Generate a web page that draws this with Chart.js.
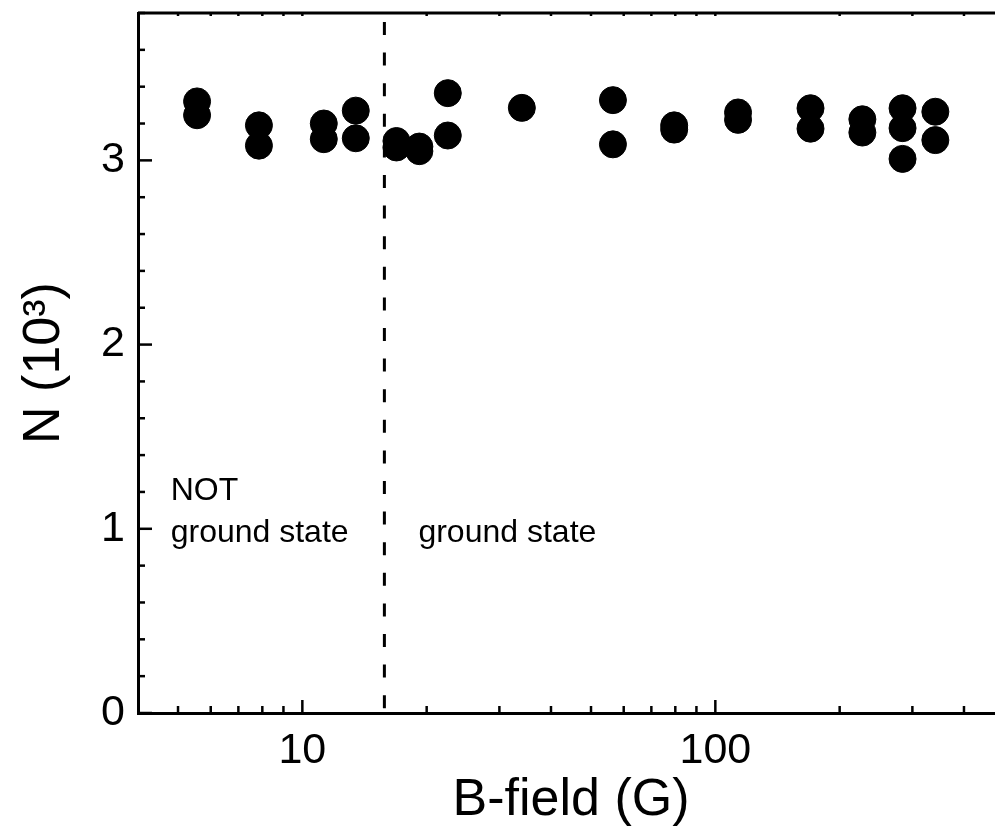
<!DOCTYPE html>
<html>
<head>
<meta charset="utf-8">
<script src="https://cdn.jsdelivr.net/npm/chart.js@4.4.1/dist/chart.umd.min.js"></script>
<style>
html, body { margin: 0; padding: 0; overflow: hidden; background: #fff; }
canvas { display: block; }
</style>
</head>
<body>
<canvas id="nChart" width="1004" height="829"></canvas>
<script>
// B-field (G) and atom number N (10^3)
const bField = [5.56, 5.56, 7.85, 7.85, 11.27, 11.27, 13.47, 13.47, 16.9, 16.9, 19.2, 19.2,
    22.5, 22.5, 34.0, 56.5, 56.5, 79.5, 79.5, 113.5, 113.5, 170, 170, 227, 227, 284, 284, 284, 341, 341];
const atomNumber = [3.32, 3.245, 3.19, 3.08, 3.20, 3.115, 3.27, 3.12, 3.105, 3.07, 3.075, 3.05,
    3.365, 3.135, 3.285, 3.327, 3.087, 3.19, 3.167, 3.26, 3.22, 3.283, 3.172, 3.223, 3.151, 3.283, 3.175, 3.008, 3.264, 3.11];

// field where the ground state starts (dashed line)
const boundaryField = 15.8;
const boundaryRange = [3.8, 0];

// axis ticks
const xTickValues = [5, 6, 7, 8, 9, 10, 20, 30, 40, 50, 60, 70, 80, 90, 100, 200, 300, 400];
const xTickLabels = [10, 100];
const yTickValues = [0, 0.2, 0.4, 0.6, 0.8, 1, 1.2, 1.4, 1.6, 1.8, 2, 2.2, 2.4, 2.6, 2.8, 3, 3.2, 3.4, 3.6, 3.8];
const yTickLabels = [0, 1, 2, 3];

// region labels
const regionTexts = ['NOT', 'ground state', 'ground state'];
const regionX = [4.8, 4.8, 19.1];
const regionY = [1.154, 0.931, 0.931];

Chart.defaults.font.family = '"Liberation Sans", Arial, sans-serif';
Chart.defaults.color = '#000';

// inward ticks, top frame line and region labels
const frameTicks = {
    id: 'frameTicks',
    afterDraw(chart) {
        const ctx = chart.ctx;
        const area = chart.chartArea;
        const x = chart.scales.x;
        const y = chart.scales.y;
        const line = (x1, y1, x2, y2) => {
            ctx.beginPath();
            ctx.moveTo(x1, y1);
            ctx.lineTo(x2, y2);
            ctx.stroke();
        };
        ctx.save();
        ctx.strokeStyle = '#000';
        ctx.lineWidth = 3;
        line(area.left, area.top, area.right, area.top);

        ctx.lineWidth = 2.5;
        xTickValues.forEach(v => {
            const px = x.getPixelForValue(v);
            const len = xTickLabels.includes(v) ? 13 : 7;
            line(px, area.bottom, px, area.bottom - len);
            line(px, area.top, px, area.top + 3);
        });
        yTickValues.forEach(v => {
            const py = y.getPixelForValue(v);
            const len = yTickLabels.includes(v) ? 14 : 7;
            line(area.left, py, area.left + len, py);
        });

        ctx.fillStyle = '#000';
        ctx.font = '32px "Liberation Sans", Arial, sans-serif';
        ctx.textAlign = 'left';
        ctx.textBaseline = 'alphabetic';
        regionTexts.forEach((t, i) => {
            ctx.fillText(t, x.getPixelForValue(regionX[i]), y.getPixelForValue(regionY[i]));
        });
        ctx.restore();
    }
};

new Chart(document.getElementById('nChart'), {
    type: 'scatter',
    data: {
        datasets: [{
            label: 'N',
            data: bField.map((b, i) => ({ x: b, y: atomNumber[i] })),
            backgroundColor: '#000',
            borderColor: '#000',
            borderWidth: 1,
            pointRadius: 13.5,
            pointHoverRadius: 13.5
        }, {
            label: 'boundary',
            data: boundaryRange.map(v => ({ x: boundaryField, y: v })),
            showLine: true,
            borderColor: '#000',
            borderWidth: 3,
            borderDash: [13, 17.6],
            borderDashOffset: 21.6,
            pointRadius: 0
        }]
    },
    options: {
        responsive: false,
        animation: false,
        layout: {
            autoPadding: false,
            padding: { top: 13, left: 0, right: 0, bottom: 0 }
        },
        plugins: {
            legend: { display: false },
            tooltip: { enabled: false }
        },
        scales: {
            x: {
                type: 'logarithmic',
                min: 4,
                max: 500,
                afterFit: s => {
                    s.height = 116;
                    s.paddingLeft = 0;
                    s.paddingRight = 0;
                },
                afterBuildTicks: s => { s.ticks = xTickValues.map(v => ({ value: v })); },
                grid: { display: false },
                border: { display: true, color: '#000', width: 3 },
                ticks: {
                    autoSkip: false,
                    maxRotation: 0,
                    padding: 4,
                    font: { size: 43 },
                    callback: v => xTickLabels.includes(v) ? String(v) : ''
                },
                title: {
                    display: true,
                    text: 'B-field (G)',
                    font: { size: 52, lineHeight: 1.1 },
                    padding: { top: 0, bottom: 0 }
                }
            },
            y: {
                min: 0,
                max: 3.8,
                afterFit: s => {
                    s.width = 138;
                    s.paddingTop = 0;
                    s.paddingBottom = 0;
                },
                afterBuildTicks: s => { s.ticks = yTickValues.map(v => ({ value: v })); },
                grid: { display: false },
                border: { display: true, color: '#000', width: 3 },
                ticks: {
                    autoSkip: false,
                    padding: 5,
                    font: { size: 43 },
                    callback: v => yTickLabels.includes(v) ? String(v) : ''
                },
                title: {
                    display: true,
                    text: 'N (10³)',
                    font: { size: 52 },
                    padding: { top: 13, bottom: 0 }
                }
            }
        }
    },
    plugins: [frameTicks]
});
</script>
</body>
</html>
